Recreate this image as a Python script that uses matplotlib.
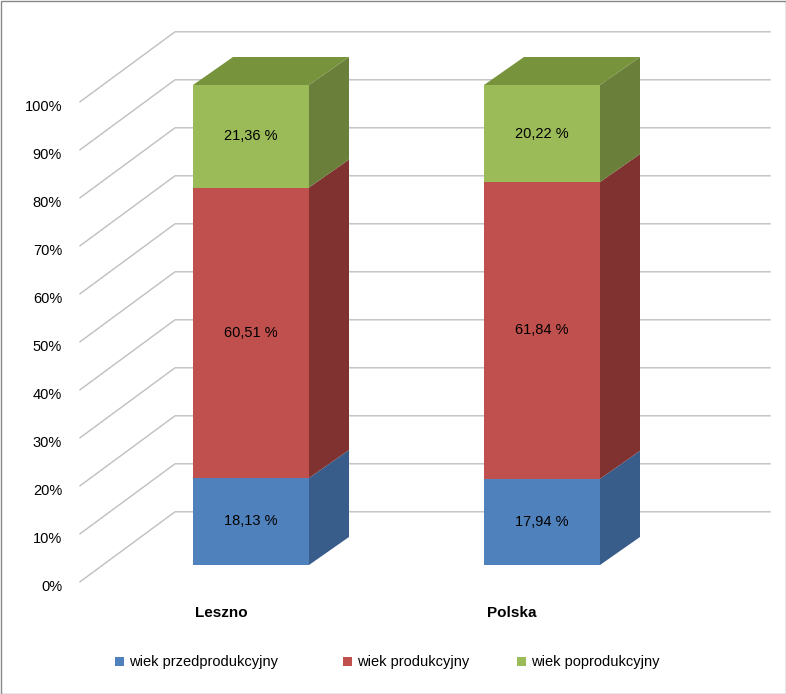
import matplotlib.pyplot as plt
from matplotlib.patches import Polygon, Rectangle

categories = ["Leszno", "Polska"]
series = ["wiek przedprodukcyjny", "wiek produkcyjny", "wiek poprodukcyjny"]
przed = [18.13, 17.94]
prod = [60.51, 61.84]
popr = [21.36, 20.22]
ticks = [0, 10, 20, 30, 40, 50, 60, 70, 80, 90, 100]

front = ["#4F81BD", "#C0504D", "#9BBB59"]
side = ["#385D8A", "#7F3230", "#6A7F3A"]
top = ["#2F4F75", "#6C2A28", "#77933C"]

# pseudo-3D projection into pixel space
X0, XSTEP, HALF = 251, 291, 58
Y0, YSCALE = 565, 4.8
DX, DY = 40, 28


def pt(xc, val, depth=0.0, off=0.0):
    return (X0 + XSTEP * xc + off + DX * depth, Y0 - YSCALE * val - DY * depth)


fig = plt.figure(figsize=(7.86, 6.94), dpi=100)
ax = fig.add_axes([0, 0, 1, 1])
ax.set_xlim(0, 786)
ax.set_ylim(694, 0)
ax.axis("off")
ax.add_patch(Rectangle((0.5, 0.5), 785, 693, fill=False, ec="#888888", lw=1))

# gridlines: floor-front to back wall
for t in ticks:
    a = pt(-0.59, t, -0.6, 0)
    a = (80, a[1])
    b = (175, pt(0, t, 1.9)[1])
    c = (770, b[1])
    ax.plot([a[0], b[0], c[0]], [a[1], b[1], c[1]], color="#BFBFBF", lw=1, zorder=1)
    ax.text(62, a[1] + 5, f"{t}%", ha="right", va="center", fontsize=10.5,
            family="Liberation Sans")

for i, cat in enumerate(categories):
    vals = [przed[i], prod[i], popr[i]]
    base = 0
    for s, v in enumerate(vals):
        y1 = base + v
        fp = [pt(i, base, 0, -HALF), pt(i, base, 0, HALF), pt(i, y1, 0, HALF), pt(i, y1, 0, -HALF)]
        sp = [pt(i, base, 0, HALF), pt(i, base, 1, HALF), pt(i, y1, 1, HALF), pt(i, y1, 0, HALF)]
        ax.add_patch(Polygon(fp, closed=True, fc=front[s], ec="none", zorder=3))
        ax.add_patch(Polygon(sp, closed=True, fc=side[s], ec="none", zorder=3))
        if s == len(vals) - 1:
            tp = [pt(i, y1, 0, -HALF), pt(i, y1, 0, HALF), pt(i, y1, 1, HALF), pt(i, y1, 1, -HALF)]
            ax.add_patch(Polygon(tp, closed=True, fc=top[s], ec="none", zorder=3))
        cx, cy = pt(i, base + v / 2)
        ax.text(cx, cy, f"{v:.2f} %".replace(".", ","), ha="center", va="center",
                fontsize=10.5, family="Liberation Sans", zorder=4)
        base = y1
    ax.text(pt(i, 0)[0] - 30, 613, cat, ha="center", va="center", fontsize=11,
            fontweight="bold", family="Liberation Sans")

# legend
lx = [115, 343, 517]
for s, name in enumerate(series):
    ax.add_patch(Rectangle((lx[s], 657), 9, 9, fc=front[s], ec="none"))
    ax.text(lx[s] + 14, 662, name, ha="left", va="center", fontsize=10.5,
            family="Liberation Sans")

fig.savefig("out.png", dpi=100)
